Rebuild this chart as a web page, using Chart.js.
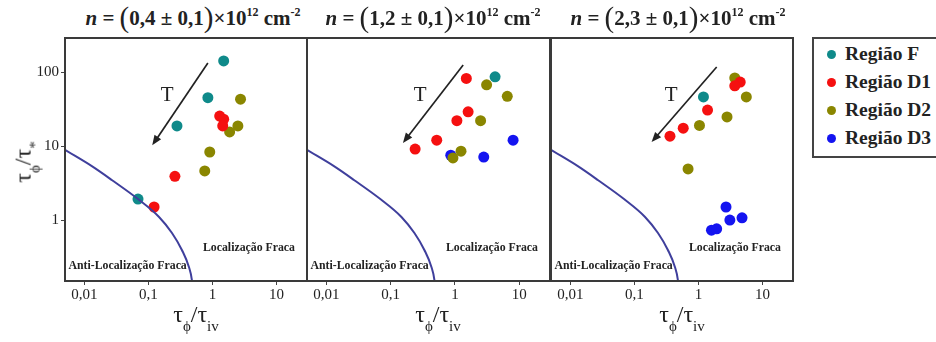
<!DOCTYPE html>
<html lang="pt">
<head>
<meta charset="UTF-8" />
<title>Localização fraca x anti-localização</title>
<script src="https://cdn.jsdelivr.net/npm/chart.js"></script>
<style>
  body { margin: 0; background: #fff; }
  #wrap { position: relative; width: 936px; height: 342px; overflow: hidden;
          font-family: "Liberation Serif", "Times New Roman", serif; color: #222; }
  #wrap canvas { position: absolute; top: 36px; }
  .title { position: absolute; top: 1px; font-weight: bold; font-size: 21px; white-space: nowrap;
           transform: translateX(-50%); line-height: 28px; }
  .title i { font-style: italic; }
  .title .par { font-size: 29px; font-weight: normal; position: relative; top: 2px; }
  .title sup { font-size: 12px; vertical-align: 9px; line-height: 0; }
  .xlab { position: absolute; top: 301px; font-size: 24px; white-space: nowrap; transform: translateX(-50%); }
  .xlab sub, .ylab sub { font-size: 15px; position: relative; top: 3px; }
  .ylab { position: absolute; left: 25px; top: 162px; font-size: 24px; white-space: nowrap;
          transform: translate(-50%, -50%) rotate(-90deg); }
  #legend { position: absolute; left: 812px; top: 37px; width: 140px; height: 117px;
            border: 2px solid #444; font-weight: bold; font-size: 19.5px; }
  #legend div { position: absolute; left: 31px; white-space: nowrap; line-height: 20px; }
  #legend span { position: absolute; left: -18px; top: 6px; width: 9px; height: 9px; border-radius: 50%; }
</style>
</head>
<body>
<div id="wrap">
  <canvas id="c1" width="310" height="266" style="left:0px"></canvas>
  <canvas id="c2" width="249" height="266" style="left:304px"></canvas>
  <canvas id="c3" width="248" height="266" style="left:548px"></canvas>
  <div id="titles"></div>
  <div class="ylab">τ<sub>ϕ</sub>/τ<sub>*</sub></div>
  <div id="xlabs"></div>
  <div id="legend"></div>
</div>
<script>
// axis ticks
const xTicks = [0.01, 0.1, 1, 10];
const xTickLabels = ["0,01", "0,1", "1", "10"];
const yTicks = [1, 10, 100];
const yTickLabels = ["1", "10", "100"];

// series
const seriesNames = ["Região F", "Região D1", "Região D2", "Região D3"];
const seriesColors = ["#0f8a8a", "#f51010", "#8a8600", "#1414f0"];

// panel densities (n, in 10^12 cm^-2)
const panelN = ["0,4", "1,2", "2,3"];
const panelErr = ["0,1", "0,1", "0,1"];

// boundary curve between the two regimes
const curvePts = [[0.00507, 8.8], [0.0133, 5.3], [0.0272, 3.45], [0.069, 1.92], [0.147, 1.1],
                  [0.234, 0.667], [0.334, 0.394], [0.43, 0.232], [0.478, 0.155], [0.49, 0.12]];

// panel 1
const p1F  = [[1.5, 141], [0.85, 45], [0.28, 18.7], [0.069, 1.92]];
const p1D1 = [[0.123, 1.5], [0.26, 3.9], [1.3, 25.4], [1.5, 23], [1.45, 18.7]];
const p1D2 = [[2.75, 43], [2.5, 18.7], [1.86, 15.5], [0.91, 8.3], [0.76, 4.6]];
const p1D3 = [];
// panel 2
const p2F  = [[4.2, 86]];
const p2D1 = [[1.5, 82], [1.6, 29], [1.07, 22], [0.52, 12], [0.24, 9.1]];
const p2D2 = [[3.1, 67], [6.5, 47], [2.5, 22], [1.24, 8.5], [0.93, 6.9]];
const p2D3 = [[0.86, 7.5], [2.8, 7.1], [8, 12]];
// panel 3
const p3F  = [[1.2, 46]];
const p3D1 = [[4.5, 73], [3.7, 65], [1.39, 30.6], [0.58, 17.4], [0.36, 13.6]];
const p3D2 = [[3.7, 83], [5.6, 46], [2.8, 24.7], [1.04, 19], [0.69, 4.9]];
const p3D3 = [[2.7, 1.5], [3.1, 1.0], [4.8, 1.07], [1.6, 0.73], [1.93, 0.76]];

// temperature arrows (start, end)
const arrowFrom = [[0.85, 132], [1.34, 124], [1.93, 117]];
const arrowTo   = [[0.115, 10.2], [0.155, 11], [0.186, 11.3]];

const panels = [[p1F, p1D1, p1D2, p1D3], [p2F, p2D1, p2D2, p2D3], [p3F, p3D1, p3D2, p3D3]];

const SERIF = "'Liberation Serif', 'Times New Roman', serif";

const panelDecor = {
  id: "panelDecor",
  afterDatasetsDraw(chart, args, opts) {
    const { ctx, chartArea: a, scales: { x, y } } = chart;
    const i = opts.panel;
    // arrow
    const x0 = x.getPixelForValue(arrowFrom[i][0]), y0 = y.getPixelForValue(arrowFrom[i][1]);
    const x1 = x.getPixelForValue(arrowTo[i][0]), y1 = y.getPixelForValue(arrowTo[i][1]);
    const ang = Math.atan2(y1 - y0, x1 - x0);
    ctx.save();
    ctx.strokeStyle = "#222";
    ctx.fillStyle = "#222";
    ctx.lineWidth = 1.7;
    ctx.beginPath();
    ctx.moveTo(x0, y0);
    ctx.lineTo(x1 - 6 * Math.cos(ang), y1 - 6 * Math.sin(ang));
    ctx.stroke();
    ctx.beginPath();
    ctx.moveTo(x1, y1);
    ctx.lineTo(x1 - 10 * Math.cos(ang) + 4 * Math.sin(ang), y1 - 10 * Math.sin(ang) - 4 * Math.cos(ang));
    ctx.lineTo(x1 - 10 * Math.cos(ang) - 4 * Math.sin(ang), y1 - 10 * Math.sin(ang) + 4 * Math.cos(ang));
    ctx.closePath();
    ctx.fill();
    // T label
    ctx.font = "21px " + SERIF;
    ctx.textAlign = "center";
    ctx.textBaseline = "middle";
    ctx.fillText("T", (x0 + x1) / 2 - 13, (y0 + y1) / 2 - 9);
    // regime labels
    ctx.font = "bold 11.8px " + SERIF;
    ctx.textAlign = "left";
    ctx.fillText("Anti-Localização Fraca", a.left + 3.5, a.bottom - 15);
    ctx.textAlign = "right";
    ctx.fillText("Localização Fraca", a.right - 12, a.bottom - 33);
    ctx.restore();
  },
  afterDraw(chart) {
    const { ctx, chartArea: a } = chart;
    ctx.save();
    ctx.strokeStyle = "#3a3a3a";
    ctx.lineWidth = 2;
    ctx.strokeRect(a.left, a.top, a.right - a.left, a.bottom - a.top);
    ctx.restore();
  }
};

function noPad(s) {
  s.paddingTop = 0; s.paddingBottom = 0; s.paddingLeft = 0; s.paddingRight = 0;
}

function makePanel(i, id, showY, pad) {
  const datasets = [{
    data: curvePts.map(p => ({ x: p[0], y: p[1] })),
    showLine: true,
    borderColor: "#3f3f9c",
    borderWidth: 2,
    pointRadius: 0,
    cubicInterpolationMode: "monotone",
    clip: 0
  }];
  panels[i].forEach((pts, s) => {
    datasets.push({
      label: seriesNames[s],
      data: pts.map(p => ({ x: p[0], y: p[1] })),
      backgroundColor: seriesColors[s],
      borderWidth: 0,
      pointRadius: 5.5
    });
  });
  const ctx = document.getElementById(id).getContext("2d");
  new Chart(ctx, {
    type: "scatter",
    data: { datasets: datasets },
    options: {
      responsive: false,
      animation: false,
      layout: { padding: pad, autoPadding: false },
      plugins: { legend: { display: false }, tooltip: { enabled: false }, panelDecor: { panel: i } },
      scales: {
        x: {
          type: "logarithmic",
          min: 0.005,
          max: 30,
          afterBuildTicks: s => { s.ticks = xTicks.map(v => ({ value: v })); },
          afterFit: s => { s.height = 21; noPad(s); },
          grid: { drawOnChartArea: false, drawTicks: true, tickLength: 4, color: "#444" },
          border: { display: false },
          ticks: {
            padding: 1,
            color: "#222",
            font: { family: SERIF, size: 15 },
            maxRotation: 0,
            autoSkip: false,
            callback: (v, idx) => xTickLabels[idx]
          }
        },
        y: {
          type: "logarithmic",
          display: showY,
          min: 0.15,
          max: 288,
          afterBuildTicks: s => { s.ticks = yTicks.map(v => ({ value: v })); },
          afterFit: s => { s.width = showY ? 65 : 0; noPad(s); },
          grid: { drawOnChartArea: false, drawTicks: true, tickLength: 4, color: "#444" },
          border: { display: false },
          ticks: {
            padding: 2,
            color: "#222",
            font: { family: SERIF, size: 15 },
            autoSkip: false,
            callback: (v, idx) => yTickLabels[idx]
          }
        }
      }
    },
    plugins: [panelDecor]
  });
}

document.addEventListener("DOMContentLoaded", function () {
  makePanel(0, "c1", true, { top: 2, right: 3, left: 0, bottom: 0 });
  makePanel(1, "c2", false, { top: 2, right: 3, left: 3, bottom: 0 });
  makePanel(2, "c3", false, { top: 2, right: 3, left: 3, bottom: 0 });

  // titles and x labels, centred on each panel
  const centers = [193, 433, 678];
  const xlabCenters = [196, 438, 682];
  const titles = document.getElementById("titles");
  const xlabs = document.getElementById("xlabs");
  panelN.forEach((n, i) => {
    const t = document.createElement("div");
    t.className = "title";
    t.style.left = centers[i] + "px";
    t.innerHTML = '<i>n</i> = <span class="par">(</span>' + n + " ± " + panelErr[i] +
      '<span class="par">)</span>×10<sup>12</sup> cm<sup>-2</sup>';
    titles.appendChild(t);
    const xl = document.createElement("div");
    xl.className = "xlab";
    xl.style.left = xlabCenters[i] + "px";
    xl.innerHTML = "τ<sub>ϕ</sub>/τ<sub>iv</sub>";
    xlabs.appendChild(xl);
  });

  const legend = document.getElementById("legend");
  seriesNames.forEach((name, s) => {
    const d = document.createElement("div");
    d.style.top = (5 + s * 28) + "px";
    d.innerHTML = '<span style="background:' + seriesColors[s] + '"></span>' + name;
    legend.appendChild(d);
  });
});
</script>
</body>
</html>
